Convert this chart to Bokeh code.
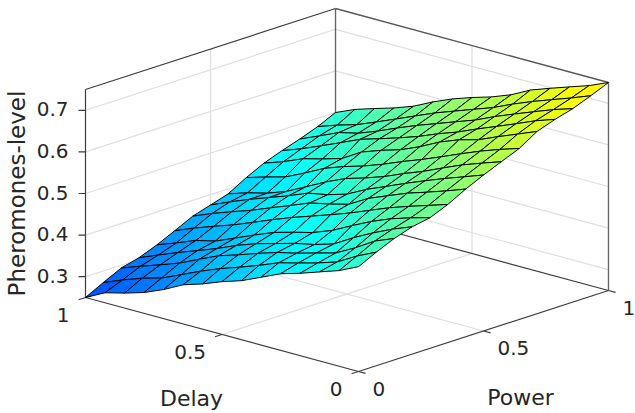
from math import pi
from bokeh.plotting import figure
from bokeh.models import Range1d, ColumnDataSource
from bokeh.core.properties import value
from bokeh.embed import file_html
from bokeh.resources import INLINE

delay_vals = [1.0, 0.929, 0.857, 0.786, 0.714, 0.643, 0.571, 0.5, 0.429, 0.357, 0.286, 0.214, 0.143, 0.071, 0.0]
power_vals = [0.0, 0.071, 0.143, 0.214, 0.286, 0.357, 0.429, 0.5, 0.571, 0.643, 0.714, 0.786, 0.857, 0.929, 1.0]
# one row per power value, one column per delay value
level_p00 = [.250,.274,.286,.300,.320,.344,.359,.377,.392,.413,.434,.448,.464,.480,.502]
level_p01 = [.272,.291,.308,.321,.342,.363,.382,.398,.415,.434,.446,.459,.474,.501,.523]
level_p02 = [.293,.310,.326,.343,.365,.386,.401,.417,.432,.443,.456,.469,.494,.523,.542]
level_p03 = [.304,.323,.342,.359,.377,.397,.414,.427,.440,.450,.464,.492,.516,.538,.556]
level_p04 = [.321,.338,.357,.368,.388,.408,.427,.440,.452,.470,.494,.517,.536,.551,.564]
level_p05 = [.341,.360,.377,.393,.412,.431,.449,.465,.481,.498,.517,.536,.552,.567,.582]
level_p06 = [.362,.381,.398,.414,.433,.451,.470,.480,.492,.519,.538,.557,.572,.588,.605]
level_p07 = [.375,.395,.414,.431,.448,.467,.476,.490,.514,.534,.554,.573,.591,.608,.625]
level_p08 = [.388,.403,.415,.432,.456,.480,.501,.515,.531,.551,.569,.590,.610,.627,.643]
level_p09 = [.413,.427,.440,.462,.486,.503,.517,.534,.553,.571,.590,.610,.629,.646,.661]
level_p10 = [.434,.450,.470,.482,.496,.524,.541,.555,.575,.599,.617,.630,.650,.669,.688]
level_p11 = [.450,.467,.487,.507,.528,.542,.557,.573,.592,.609,.629,.648,.667,.687,.703]
level_p12 = [.464,.484,.505,.516,.534,.554,.573,.590,.607,.624,.645,.664,.682,.700,.715]
level_p13 = [.480,.496,.510,.529,.549,.569,.589,.606,.623,.640,.661,.680,.697,.714,.732]
level_p14 = [.500,.520,.535,.549,.566,.589,.609,.625,.639,.657,.681,.698,.714,.730,.750]
levels = [level_p00, level_p01, level_p02, level_p03, level_p04, level_p05, level_p06, level_p07,
          level_p08, level_p09, level_p10, level_p11, level_p12, level_p13, level_p14]

level_ticks = [0.3, 0.4, 0.5, 0.6, 0.7]
level_tick_labels = ["0.3", "0.4", "0.5", "0.6", "0.7"]
unit_ticks = [0.0, 0.5, 1.0]
unit_tick_labels = ["0", "0.5", "1"]
Z_MIN, Z_MAX = 0.25, 0.75


def proj(d, pw, z=Z_MIN):
    """View transform of the 3-D axes box onto the page."""
    return (358 - 273 * d + 250 * pw, 371 - 74 * d - 81 * pw - 416 * (z - Z_MIN))


def jet(v):
    def ch(t):
        return max(0.0, min(1.0, 1.5 - abs(4 * t)))
    r, g, b = ch(v - 0.75), ch(v - 0.5), ch(v - 0.25)
    return "#%02x%02x%02x" % (round(r * 255), round(g * 255), round(b * 255))


def colour(z):
    return jet(0.375 + 0.92 * (z - 0.45))


W, H = 635, 413
p = figure(width=W, height=H, output_backend="svg", toolbar_location=None, min_border=0,
           x_range=Range1d(0, W), y_range=Range1d(H, 0))
p.axis.visible = False
p.grid.visible = False
p.outline_line_color = None
p.background_fill_color = "white"
p.border_fill_color = "white"


def seg(a, b, color, width=1.0):
    p.line([a[0], b[0]], [a[1], b[1]], line_color=color, line_width=width)


GRID = "#dedede"
for z in level_ticks:
    seg(proj(1, 0, z), proj(1, 1, z), GRID, 1.2)
    seg(proj(1, 1, z), proj(0, 1, z), GRID, 1.2)
seg(proj(1, .5, Z_MIN), proj(1, .5, Z_MAX), GRID, 1.2)
seg(proj(.5, 1, Z_MIN), proj(.5, 1, Z_MAX), GRID, 1.2)
seg(proj(.5, 0), proj(.5, 1), GRID, 1.2)
seg(proj(0, .5), proj(1, .5), GRID, 1.2)

BOX = "#3c3c3c"
seg(proj(1, 0, Z_MAX), proj(1, 1, Z_MAX), BOX, 1.2)
seg(proj(1, 1, Z_MAX), proj(0, 1, Z_MAX), "#555555", 1.3)
seg(proj(1, 1), proj(1, 1, Z_MAX), "#666666", 1.4)
seg(proj(0, 1), proj(0, 1, Z_MAX), "#666666", 1.4)
seg(proj(1, 0), proj(1, 0, Z_MAX), BOX, 1.2)
seg(proj(1, 0), proj(0, 0), BOX, 1.2)
seg(proj(0, 0), proj(0, 1), BOX, 1.2)
seg(proj(1, 1), proj(1, 0), BOX, 1.2)
seg(proj(1, 1), proj(0, 1), BOX, 1.2)

for z in level_ticks:
    a = proj(1, 0, z)
    seg(a, (a[0] - 7, a[1]), BOX, 1.2)
for d in unit_ticks:
    seg(proj(d, 0), proj(d, -0.028), BOX, 1.2)
for pw in unit_ticks:
    seg(proj(0, pw), proj(-0.026, pw), BOX, 1.2)

cells = []
for i in range(len(power_vals) - 1):
    for j in range(len(delay_vals) - 1):
        cells.append((i, j))
cells.sort(key=lambda c: c[1] - c[0])
xs, ys, cols = [], [], []
for i, j in cells:
    corners = [(i, j), (i, j + 1), (i + 1, j + 1), (i + 1, j)]
    pts = [proj(delay_vals[b], power_vals[a], levels[a][b]) for a, b in corners]
    xs.append([q[0] for q in pts])
    ys.append([q[1] for q in pts])
    cols.append(colour(sum(levels[a][b] for a, b in corners) / 4))
p.patches("xs", "ys", source=ColumnDataSource(dict(xs=xs, ys=ys, c=cols)), fill_color="c",
          line_color="#000000", line_width=1.0)

FONT = value("DejaVu Sans")
TXT = "#262626"


def label(x, y, s, size, align="center", angle=0):
    p.text([x], [y], text=[s], text_font=FONT, text_font_size=size, text_color=TXT,
           text_align=align, text_baseline="middle", angle=angle)


for z, s in zip(level_ticks, level_tick_labels):
    a = proj(1, 0, z)
    label(a[0] - 17, a[1] - 1, s, "20px", "right")
for d, s in zip(unit_ticks, unit_tick_labels):
    a = proj(d, 0)
    label(a[0] - 16, a[1] + 17, s, "20px", "right")
for pw, s in zip(unit_ticks, unit_tick_labels):
    a = proj(0, pw)
    label(a[0] + 14, a[1] + 17, s, "20px", "left")
label(191, 398, "Delay", "22px")
label(520, 397, "Power", "22px")
label(16, 193, "Pheromones-level", "23px", angle=pi / 2)

open("out.html", "w").write(file_html(p, INLINE))
